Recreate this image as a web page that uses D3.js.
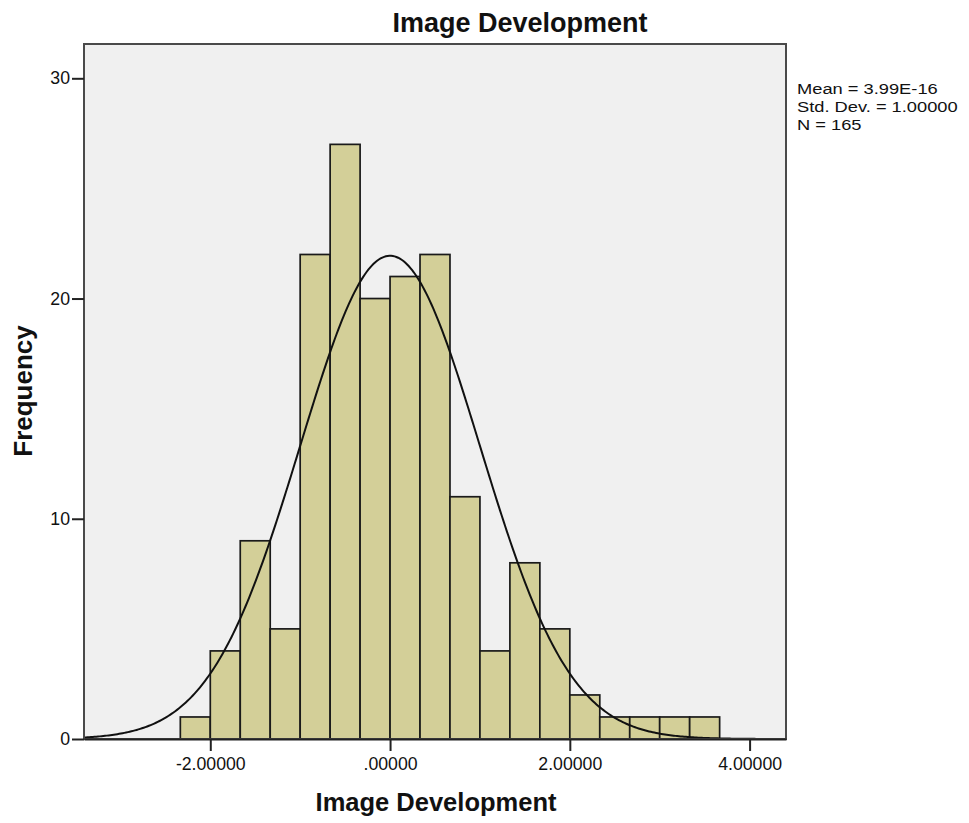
<!DOCTYPE html>
<html>
<head>
<meta charset="utf-8">
<script src="https://cdn.jsdelivr.net/npm/d3@7"></script>
<style>
  html, body { margin: 0; padding: 0; background: #fff; }
  svg { display: block; font-family: "Liberation Sans", Arial, sans-serif; }
</style>
</head>
<body>
<svg id="chart" width="969" height="823"></svg>
<script>
// Histogram bins (lower edges) and frequencies
const binStarts = [-7, -6, -5, -4, -3, -2, -1, 0, 1, 2, 3, 4, 5, 6, 7, 8, 9, 10].map(k => k / 3);
const binWidth = 1 / 3;
const frequencies = [1, 4, 9, 5, 22, 27, 20, 21, 22, 11, 4, 8, 5, 2, 1, 1, 1, 1];
const xTicks = [-2, 0, 2, 4];
const yTicks = [0, 10, 20, 30];
const statLines = ["Mean = 3.99E-16", "Std. Dev. = 1.00000", "N = 165"];
const meanValue = 0;
const sdValue = 1;
const nValue = 165;

const svg = d3.select("#chart");
const plot = { left: 84, right: 786, top: 44, bottom: 739 };

const x = d3.scaleLinear().domain([-3.405, 4.405]).range([plot.left, plot.right]);
const y = d3.scaleLinear().domain([0, 30]).range([plot.bottom, 78.3]);

// plot background
svg.append("rect")
  .attr("x", plot.left).attr("y", plot.top)
  .attr("width", plot.right - plot.left).attr("height", plot.bottom - plot.top)
  .attr("fill", "#f0f0f0");

// bars
const bins = binStarts.map((s, i) => ({ x0: s, x1: s + binWidth, n: frequencies[i] }));
svg.append("g").selectAll("rect").data(bins).join("rect")
  .attr("x", d => x(d.x0))
  .attr("y", d => y(d.n))
  .attr("width", d => x(d.x1) - x(d.x0))
  .attr("height", d => y(0) - y(d.n))
  .attr("fill", "#d3cf98")
  .attr("stroke", "#1a1a1a")
  .attr("stroke-width", 1.7);

// normal curve scaled to counts
const pdf = v => Math.exp(-0.5 * ((v - meanValue) / sdValue) ** 2) / (sdValue * Math.sqrt(2 * Math.PI));
const curvePts = d3.range(0, 401).map(i => {
  const v = x.domain()[0] + (x.domain()[1] - x.domain()[0]) * i / 400;
  return [v, nValue * binWidth * pdf(v)];
});
svg.append("path")
  .datum(curvePts)
  .attr("d", d3.line().x(d => x(d[0])).y(d => y(d[1])))
  .attr("fill", "none")
  .attr("stroke", "#111")
  .attr("stroke-width", 2);

// frame
svg.append("rect")
  .attr("x", plot.left).attr("y", plot.top)
  .attr("width", plot.right - plot.left).attr("height", plot.bottom - plot.top)
  .attr("fill", "none")
  .attr("stroke", "#4a4a4a")
  .attr("stroke-width", 2);

// x axis
const xAxis = d3.axisBottom(x).tickValues(xTicks).tickSize(12).tickSizeOuter(0).tickPadding(6)
  .tickFormat(d => d === 0 ? ".00000" : d3.format(".5f")(d).replace("−", "-"));
const gx = svg.append("g").attr("transform", `translate(0,${plot.bottom})`).call(xAxis);
gx.select(".domain").attr("stroke", "#222").attr("stroke-width", 2);
gx.selectAll(".tick line").attr("stroke", "#222").attr("stroke-width", 2);
gx.selectAll(".tick text").attr("font-size", 17.7).attr("fill", "#111")
  .attr("font-family", "'Liberation Sans', Arial, sans-serif");

// y axis
const yAxis = d3.axisLeft(y).tickValues(yTicks).tickSize(12).tickSizeOuter(0).tickPadding(2);
const gy = svg.append("g").attr("transform", `translate(${plot.left},0)`).call(yAxis);
gy.select(".domain").remove();
gy.selectAll(".tick line").attr("stroke", "#222").attr("stroke-width", 2);
gy.selectAll(".tick text").attr("font-size", 17.7).attr("fill", "#111")
  .attr("font-family", "'Liberation Sans', Arial, sans-serif");

// titles
svg.append("text")
  .attr("x", 520).attr("y", 31.5)
  .attr("text-anchor", "middle")
  .attr("font-size", 27).attr("font-weight", "bold").attr("fill", "#111")
  .text("Image Development");

svg.append("text")
  .attr("x", 436).attr("y", 811)
  .attr("text-anchor", "middle")
  .attr("font-size", 25.5).attr("font-weight", "bold").attr("fill", "#111")
  .text("Image Development");

svg.append("text")
  .attr("transform", "translate(32,391) rotate(-90)")
  .attr("text-anchor", "middle")
  .attr("font-size", 26).attr("font-weight", "bold").attr("fill", "#111")
  .text("Frequency");

// summary statistics, set in a slightly widened face
svg.append("g")
  .attr("transform", "translate(797,0) scale(1.18,1)")
  .selectAll("text").data(statLines).join("text")
  .attr("x", 0)
  .attr("y", (d, i) => 94 + i * 18)
  .attr("font-size", 15.5).attr("fill", "#111")
  .text(d => d);
</script>
</body>
</html>
